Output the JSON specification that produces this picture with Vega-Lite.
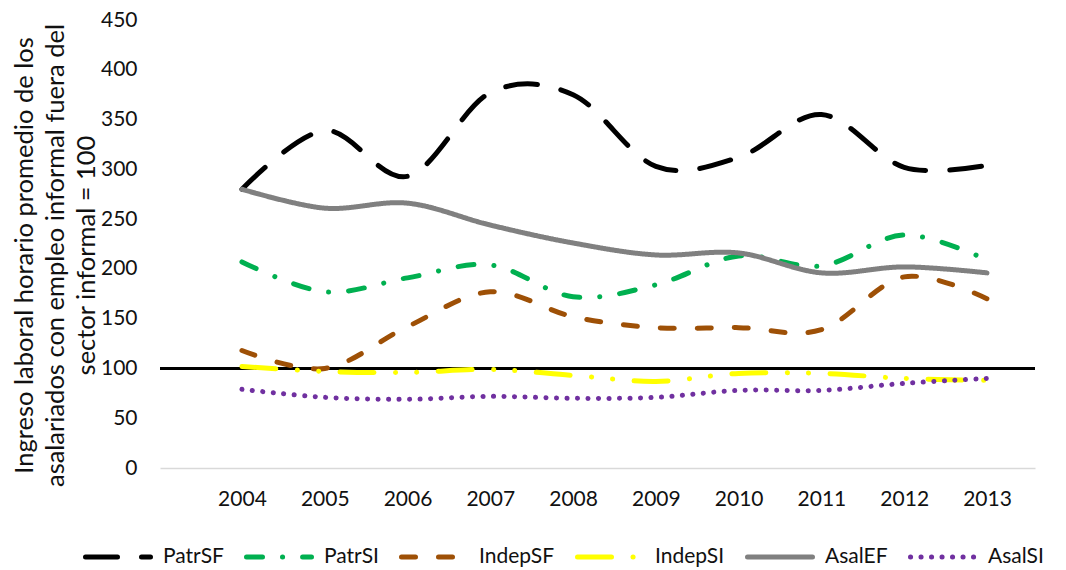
{
  "$schema": "https://vega.github.io/schema/vega-lite/v6.json",
  "width": 875,
  "height": 448,
  "autosize": {"type": "none"},
  "padding": {"left": 160, "top": 20, "right": 31, "bottom": 102},
  "background": "white",
  "config": {
    "view": {"stroke": null},
    "font": "Lato",
    "axis": {"labelFont": "Lato", "titleFont": "Lato", "labelColor": "#111111", "titleColor": "#111111", "grid": false},
    "legend": {"labelFont": "Lato", "labelColor": "#111111"}
  },
  "data": {
    "values": [
      {"year": 2004, "series": "PatrSF", "value": 280},
      {"year": 2005, "series": "PatrSF", "value": 339},
      {"year": 2006, "series": "PatrSF", "value": 293},
      {"year": 2007, "series": "PatrSF", "value": 377},
      {"year": 2008, "series": "PatrSF", "value": 375},
      {"year": 2009, "series": "PatrSF", "value": 303},
      {"year": 2010, "series": "PatrSF", "value": 312},
      {"year": 2011, "series": "PatrSF", "value": 355},
      {"year": 2012, "series": "PatrSF", "value": 302},
      {"year": 2013, "series": "PatrSF", "value": 304},
      {"year": 2004, "series": "PatrSI", "value": 207},
      {"year": 2005, "series": "PatrSI", "value": 177},
      {"year": 2006, "series": "PatrSI", "value": 191},
      {"year": 2007, "series": "PatrSI", "value": 204},
      {"year": 2008, "series": "PatrSI", "value": 172},
      {"year": 2009, "series": "PatrSI", "value": 184},
      {"year": 2010, "series": "PatrSI", "value": 213},
      {"year": 2011, "series": "PatrSI", "value": 203},
      {"year": 2012, "series": "PatrSI", "value": 234},
      {"year": 2013, "series": "PatrSI", "value": 209},
      {"year": 2004, "series": "IndepSF", "value": 118},
      {"year": 2005, "series": "IndepSF", "value": 100},
      {"year": 2006, "series": "IndepSF", "value": 142},
      {"year": 2007, "series": "IndepSF", "value": 177},
      {"year": 2008, "series": "IndepSF", "value": 152},
      {"year": 2009, "series": "IndepSF", "value": 141},
      {"year": 2010, "series": "IndepSF", "value": 141},
      {"year": 2011, "series": "IndepSF", "value": 139},
      {"year": 2012, "series": "IndepSF", "value": 192},
      {"year": 2013, "series": "IndepSF", "value": 170},
      {"year": 2004, "series": "IndepSI", "value": 102},
      {"year": 2005, "series": "IndepSI", "value": 97},
      {"year": 2006, "series": "IndepSI", "value": 96},
      {"year": 2007, "series": "IndepSI", "value": 99},
      {"year": 2008, "series": "IndepSI", "value": 93},
      {"year": 2009, "series": "IndepSI", "value": 87},
      {"year": 2010, "series": "IndepSI", "value": 95},
      {"year": 2011, "series": "IndepSI", "value": 95},
      {"year": 2012, "series": "IndepSI", "value": 90},
      {"year": 2013, "series": "IndepSI", "value": 88},
      {"year": 2004, "series": "AsalEF", "value": 280},
      {"year": 2005, "series": "AsalEF", "value": 261},
      {"year": 2006, "series": "AsalEF", "value": 266},
      {"year": 2007, "series": "AsalEF", "value": 244},
      {"year": 2008, "series": "AsalEF", "value": 226},
      {"year": 2009, "series": "AsalEF", "value": 214},
      {"year": 2010, "series": "AsalEF", "value": 216},
      {"year": 2011, "series": "AsalEF", "value": 196},
      {"year": 2012, "series": "AsalEF", "value": 202},
      {"year": 2013, "series": "AsalEF", "value": 196},
      {"year": 2004, "series": "AsalSI", "value": 79},
      {"year": 2005, "series": "AsalSI", "value": 71},
      {"year": 2006, "series": "AsalSI", "value": 69},
      {"year": 2007, "series": "AsalSI", "value": 72},
      {"year": 2008, "series": "AsalSI", "value": 70},
      {"year": 2009, "series": "AsalSI", "value": 71},
      {"year": 2010, "series": "AsalSI", "value": 78},
      {"year": 2011, "series": "AsalSI", "value": 78},
      {"year": 2012, "series": "AsalSI", "value": 85},
      {"year": 2013, "series": "AsalSI", "value": 90}
    ]
  },
  "encoding": {
    "x": {
      "field": "year", "type": "quantitative",
      "scale": {"domain": [2003.01, 2013.58], "nice": false, "zero": false},
      "axis": {
        "title": null, "values": [2004, 2005, 2006, 2007, 2008, 2009, 2010, 2011, 2012, 2013],
        "format": "d", "ticks": false, "tickSize": 0, "labelPadding": 20, "labelFontSize": 21,
        "domainColor": "#D9D9D9", "domainWidth": 1.5, "labelFlush": false
      }
    },
    "y": {
      "field": "value", "type": "quantitative",
      "scale": {"domain": [0, 450], "nice": false},
      "axis": {
        "values": [0, 50, 100, 150, 200, 250, 300, 350, 400, 450],
        "domain": false, "ticks": false, "tickSize": 0, "labelPadding": 23, "labelFontSize": 21,
        "title": ["Ingreso laboral horario promedio de los", "asalariados con empleo informal fuera del", "sector informal = 100"],
        "titleFontSize": 25.5, "titleFontWeight": "normal", "titleLineHeight": 31,
        "titleAngle": -90, "titleAlign": "center", "titleBaseline": "middle",
        "titleX": -136, "titleY": 235
      }
    }
  },
  "layer": [
    {
      "mark": {"type": "rule", "color": "#000000", "strokeWidth": 2},
      "encoding": {"y": {"datum": 100}, "x": null}
    },
    {
      "mark": {"type": "line", "interpolate": "cardinal", "tension": 0, "strokeCap": "round", "strokeJoin": "round"},
      "encoding": {
        "color": {
          "field": "series", "type": "nominal",
          "scale": {
            "domain": ["PatrSF", "PatrSI", "IndepSF", "IndepSI", "AsalEF", "AsalSI"],
            "range": ["#000000", "#00B050", "#9E5006", "#FFFF00", "#808080", "#7030A0"]
          },
          "legend": {
            "title": null, "orient": "none", "direction": "horizontal", "columns": 6,
            "legendX": -77, "legendY": 502, "padding": 0,
            "symbolType": "stroke", "symbolSize": 4225, "symbolStrokeWidth": 5,
            "labelFontSize": 21, "labelOffset": 10, "columnPadding": 12,
            "encode": {"symbols": {"update": {"strokeCap": {"value": "round"}}}}
          }
        },
        "strokeDash": {
          "field": "series", "type": "nominal",
          "scale": {
            "domain": ["PatrSF", "PatrSI", "IndepSF", "IndepSI", "AsalEF", "AsalSI"],
            "range": [[32, 24], [16, 20, 0.1, 20], [14, 23], [34, 21.5, 0.1, 21, 0.1, 21.5], [1, 0], [0.1, 10.4]]
          },
          "legend": {
            "title": null, "orient": "none", "direction": "horizontal", "columns": 6,
            "legendX": -77, "legendY": 502, "padding": 0,
            "symbolType": "stroke", "symbolSize": 4225, "symbolStrokeWidth": 5,
            "labelFontSize": 21, "labelOffset": 10, "columnPadding": 12,
            "encode": {"symbols": {"update": {"strokeCap": {"value": "round"}}}}
          }
        },
        "strokeWidth": {
          "field": "series", "type": "nominal",
          "scale": {
            "domain": ["PatrSF", "PatrSI", "IndepSF", "IndepSI", "AsalEF", "AsalSI"],
            "range": [5, 5, 5, 5, 4, 4.5]
          },
          "legend": null
        }
      }
    }
  ]
}
